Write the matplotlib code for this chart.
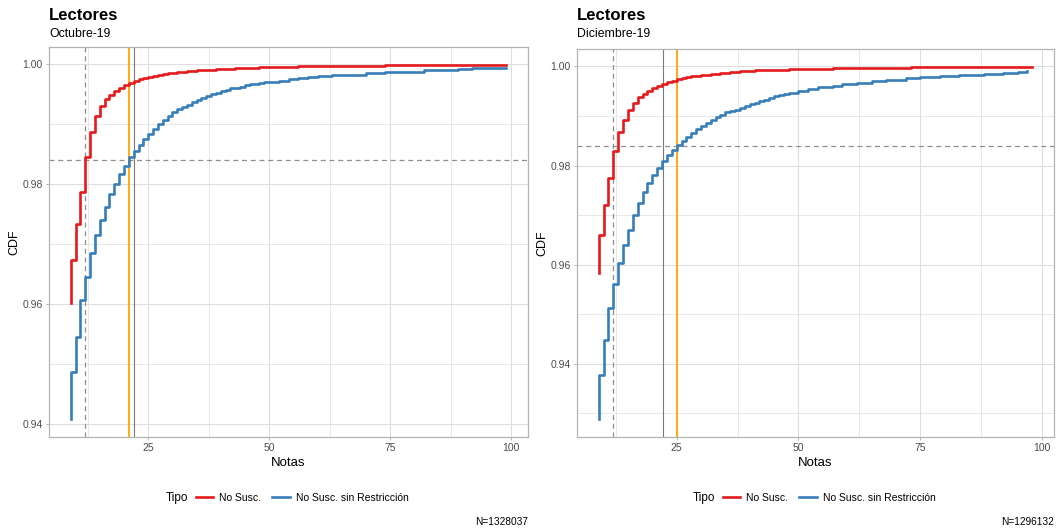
"""
plot.py
CDF de notas leídas por lectores no suscriptos (Octubre-19 vs Diciembre-19).
Output: out.png
"""

import matplotlib
matplotlib.use("Agg")
import matplotlib.pyplot as plt
from matplotlib.lines import Line2D
from matplotlib.ticker import MultipleLocator, FormatStrFormatter

# ---------------------------------------------------------------- data
# ECDF: first x repeated so the curve starts with a rise
NOTAS_OCT_NS = [9, 9, 10, 11, 12, 13, 14, 15, 16, 17, 18, 19, 20, 21, 22, 23,
                24, 25, 26, 27, 28, 29, 30, 31, 32, 33, 34, 35, 36, 37, 38, 39,
                40, 41, 43, 44, 48, 56, 74, 99]
CDF_OCT_NS = [0.9602, 0.9673, 0.9734, 0.9787, 0.9846, 0.9888, 0.9914, 0.9930,
              0.9943, 0.9949, 0.9956, 0.9961, 0.9965, 0.9969, 0.9972, 0.9975,
              0.9977, 0.9979, 0.9980, 0.9982, 0.9984, 0.9985, 0.9986, 0.9987,
              0.9988, 0.99885, 0.9989, 0.9990, 0.99905, 0.9991, 0.99915, 0.9992,
              0.99925, 0.9993, 0.99935, 0.9994, 0.99955, 0.99978, 0.99995, 0.99995]

NOTAS_OCT_SR = [9, 9, 10, 11, 12, 13, 14, 15, 16, 17, 18, 19, 20, 21, 22, 23,
                24, 25, 26, 27, 28, 29, 30, 31, 32, 33, 34, 35, 36, 37, 38, 39,
                40, 41, 42, 43, 44, 45, 46, 47, 48, 49, 50, 52, 54, 56, 58, 60,
                63, 66, 70, 74, 78, 82, 86, 89, 92, 99]
CDF_OCT_SR = [0.9408, 0.9487, 0.9546, 0.9607, 0.9646, 0.9685, 0.9716, 0.9740,
              0.9762, 0.9783, 0.9801, 0.9818, 0.9831, 0.9845, 0.9856, 0.9866,
              0.9876, 0.9884, 0.9892, 0.9900, 0.9907, 0.9914, 0.9920, 0.9925,
              0.9929, 0.9933, 0.9937, 0.9941, 0.9944, 0.9948, 0.9950, 0.9953,
              0.9956, 0.9958, 0.9960, 0.9961, 0.9963, 0.9965, 0.9967, 0.9968,
              0.9969, 0.9970, 0.9971, 0.9973, 0.9975, 0.9977, 0.9979, 0.9981,
              0.9982, 0.9983, 0.9985, 0.9987, 0.9988, 0.9990, 0.9991, 0.9993,
              0.9994, 0.9994]

NOTAS_DIC_NS = [9, 9, 10, 11, 12, 13, 14, 15, 16, 17, 18, 19, 20, 21, 22, 23,
                24, 25, 26, 27, 28, 29, 30, 32, 34, 36, 38, 41, 44, 48, 57, 73, 98]
CDF_DIC_NS = [0.9584, 0.9660, 0.9721, 0.9774, 0.9830, 0.9868, 0.9892, 0.9912,
              0.9926, 0.9938, 0.9944, 0.9951, 0.9956, 0.9960, 0.9964, 0.9968,
              0.9971, 0.9974, 0.9976, 0.9978, 0.9980, 0.9981, 0.9983, 0.9985,
              0.9987, 0.9989, 0.9990, 0.9992, 0.9993, 0.9995, 0.9997, 0.99995,
              0.99995]

NOTAS_DIC_SR = [9, 9, 10, 11, 12, 13, 14, 15, 16, 17, 18, 19, 20, 21, 22, 23,
                24, 25, 26, 27, 28, 29, 30, 31, 32, 33, 34, 35, 36, 37, 38, 39,
                40, 41, 42, 43, 44, 45, 46, 47, 48, 50, 52, 54, 57, 59, 62, 65,
                68, 72, 75, 79, 83, 88, 92, 95, 97]
CDF_DIC_SR = [0.9288, 0.9377, 0.9448, 0.9512, 0.9561, 0.9603, 0.9640, 0.9670,
              0.9700, 0.9724, 0.9746, 0.9764, 0.9781, 0.9795, 0.9809, 0.9821,
              0.9832, 0.9842, 0.9850, 0.9858, 0.9866, 0.9873, 0.9880, 0.9886,
              0.9892, 0.9897, 0.9901, 0.9907, 0.9910, 0.9913, 0.9917, 0.9920,
              0.9924, 0.9927, 0.9930, 0.9933, 0.9937, 0.9941, 0.9943, 0.9945,
              0.9947, 0.9950, 0.9955, 0.9958, 0.9960, 0.9964, 0.9967, 0.9970,
              0.9973, 0.9976, 0.9978, 0.9981, 0.9983, 0.9985, 0.9986, 0.9989,
              0.9990]

# reference lines: quantile of "No Susc.", quantile of "sin Restricción", mean
Q_NS     = [12, 12]
Q_SR     = [21, 25]
MEAN     = [22, 22.2]
CUT      = [0.984, 0.984]
MONTHS   = ["Octubre-19", "Diciembre-19"]
N_TOTAL  = ["N=1328037", "N=1296132"]
SERIES   = ["No Susc.", "No Susc. sin Restricción"]

# ---------------------------------------------------------------- style
plt.rcParams.update({
    "font.family": ["Liberation Sans", "DejaVu Sans"],
    "font.size": 8,
})

C_NS     = "#E41A1C"
C_SR     = "#377EB8"
C_ORANGE = "#FFA500"
C_MEAN   = "#7A7A7A"
C_DASH   = "#8F8F8F"
C_GRID   = "#DEDEDE"
C_FRAME  = "#B3B3B3"
C_TICK   = "#4D4D4D"

W, H = 1057, 532
fig = plt.figure(figsize=(W / 100, H / 100), dpi=100)

# panel boxes in pixels: left, top, right, bottom
BOXES = [(49, 47, 528, 437), (577, 49, 1054, 437)]
DATA = [(NOTAS_OCT_NS, CDF_OCT_NS, NOTAS_OCT_SR, CDF_OCT_SR),
        (NOTAS_DIC_NS, CDF_DIC_NS, NOTAS_DIC_SR, CDF_DIC_SR)]


def expand(lo, hi, f=0.05):
    d = (hi - lo) * f
    return lo - d, hi + d


for i, (x0, y0, x1, y1) in enumerate(BOXES):
    ax = fig.add_axes([x0 / W, 1 - y1 / H, (x1 - x0) / W, (y1 - y0) / H])
    xn, yn, xs, ys = DATA[i]

    # guides
    ax.axhline(CUT[i], color=C_DASH, lw=0.9, ls=(0, (4, 3)), zorder=2)
    ax.axvline(Q_NS[i], color=C_DASH, lw=0.9, ls=(0, (4, 3)), zorder=2)
    ax.axvline(MEAN[i], color=C_MEAN, lw=0.8, zorder=2)
    ax.axvline(Q_SR[i], color=C_ORANGE, lw=1.3, zorder=2)

    ax.step(xn, yn, where="post", color=C_NS, lw=1.9, zorder=3)
    ax.step(xs, ys, where="post", color=C_SR, lw=1.9, zorder=3)

    ax.set_xlim(*expand(min(xn + xs), max(xn + xs)))
    ax.set_ylim(*expand(min(yn + ys), max(yn + ys)))

    ax.xaxis.set_major_locator(MultipleLocator(25))
    ax.xaxis.set_minor_locator(MultipleLocator(12.5))
    ax.yaxis.set_major_locator(MultipleLocator(0.02))
    ax.yaxis.set_minor_locator(MultipleLocator(0.01))
    ax.yaxis.set_major_formatter(FormatStrFormatter("%.2f"))
    ax.grid(which="major", color=C_GRID, lw=0.8, zorder=0)
    ax.grid(which="minor", color=C_GRID, lw=0.5, zorder=0)
    ax.set_axisbelow(True)
    for s in ax.spines.values():
        s.set_color(C_FRAME)
        s.set_linewidth(0.9)
    ax.tick_params(which="major", length=2.5, width=0.7, color=C_FRAME,
                   labelcolor=C_TICK, labelsize=7.5, pad=2)
    ax.tick_params(which="minor", length=0)

    cx = (x0 + x1) / 2
    fig.text(x0 / W, 1 - 16 / H, "Lectores", fontsize=12, fontweight="bold",
             va="center", ha="left")
    fig.text(x0 / W, 1 - 34 / H, MONTHS[i], fontsize=8.8, va="center",
             ha="left")
    fig.text((x0 - 35) / W, 1 - (y0 + y1) / 2 / H, "CDF", rotation=90,
             fontsize=9, va="center", ha="center")
    fig.text(cx / W, 1 - 463 / H, "Notas", fontsize=9.5, va="center",
             ha="center")
    fig.text(x1 / W, 1 - 522 / H, N_TOTAL[i], fontsize=7.3, va="center",
             ha="right")

    # legend: title on the left, entries in one row
    fig.text((cx - 123) / W, 1 - 498 / H, "Tipo", fontsize=8.5, va="center",
             ha="left")
    handles = [Line2D([], [], color=C_NS, lw=1.9),
               Line2D([], [], color=C_SR, lw=1.9)]
    fig.legend(handles, SERIES, loc="center left",
               bbox_to_anchor=((cx - 93) / W, 1 - 498 / H),
               ncol=2, frameon=False, fontsize=7.5, borderpad=0,
               borderaxespad=0, handlelength=1.7, handletextpad=0.6,
               columnspacing=1.0)

fig.savefig("out.png", dpi=100)
